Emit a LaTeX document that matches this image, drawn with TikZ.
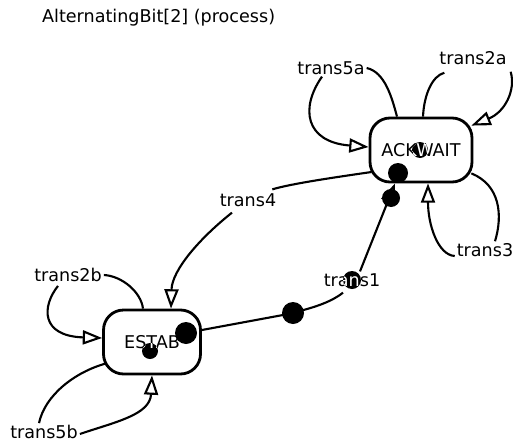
\documentclass[tikz,border=0pt]{standalone}
\usepackage{fontspec}
\setmainfont{DejaVu Sans}
\usetikzlibrary{arrows.meta,calc}

\begin{document}
\begin{tikzpicture}[x=0.02cm,y=-0.02cm,
    statebox/.style={draw,line width=1.6pt,rounded corners=0.4cm,minimum height=1.28cm,inner sep=0pt,font=\fontsize{10}{12}\selectfont},
    lbl/.style={inner sep=1pt,font=\fontsize{10}{12}\selectfont},
    tr/.style={line width=1.2pt},
    tra/.style={tr,-{Triangle[open,length=11pt,width=8pt]}},
    blob/.style={fill=black}]
    \useasboundingbox (0,0) rectangle (513,446);

    \node[lbl,anchor=west] (title) at (40,18) {AlternatingBit[2] (process)};

    % states
    \node[statebox,minimum width=2.04cm] (ackwait) at (421,150) {ACKWAIT};
    \node[statebox,minimum width=1.94cm] (estab) at (152,342) {ESTAB};

    % transition labels
    \node[lbl] (t5a) at (331,68) {trans5a};
    \node[lbl] (t2a) at (473,58) {trans2a};
    \node[lbl] (t3) at (485,250) {trans3};
    \node[lbl] (t4) at (248,200) {trans4};
    \node[lbl] (t1) at (352,280) {trans1};
    \node[lbl] (t2b) at (68,275) {trans2b};
    \node[lbl] (t5b) at (44,432) {trans5b};

    % loops on ACKWAIT
    \draw[tr] ($(ackwait.north)+(-24,0)$) .. controls (392,98) and (385,72) .. (t5a.east);
    \draw[tra] ($(t5a.south)+(-9,0)$) .. controls (300,108) and (305,142) .. ($(ackwait.west)+(0,-3)$);
    \draw[tr] ($(ackwait.north)+(2,0)$) .. controls (424,95) and (432,76) .. ($(t2a.south west)+(7,6)$);
    \draw[tra] ($(t2a.south east)+(2,5)$) .. controls (516,90) and (505,112) .. ($(ackwait.north east)+(-2,9)$);
    \draw[tr] ($(ackwait.south east)+(-2,-10)$) .. controls (500,185) and (503,215) .. ($(t3.north)+(10,0)$);
    \draw[tra] ($(t3.west)+(0,6)$) .. controls (438,255) and (428,225) .. ($(ackwait.south)+(7,0)$);

    % ACKWAIT -> ESTAB
    \draw[tr] ($(ackwait.west)+(3,22)$) .. controls (330,178) and (290,184) .. ($(t4.north east)+(-6,-2)$);
    \draw[tra] ($(t4.south)+(-16,4)$) .. controls (200,238) and (172,270) .. ($(estab.north)+(19,0)$);

    % ESTAB -> ACKWAIT
    \draw[tr] ($(estab.east)+(0,-12)$) -- (283,315) .. controls (310,309) and (330,303) .. ($(t1.south)+(-9,4)$);
    \draw[tra] ($(t1.north)+(8,0)$) -- ($(ackwait.south)+(-26,0)$);

    % loops on ESTAB
    \draw[tr] ($(estab.north)+(-9,0)$) .. controls (141,292) and (122,276) .. (t2b.east);
    \draw[tra] ($(t2b.south)+(-10,2)$) .. controls (42,306) and (40,336) .. ($(estab.west)+(0,-4)$);
    \draw[tr] ($(estab.south west)+(4,-12)$) .. controls (75,372) and (45,395) .. ($(t5b.north)+(-5,0)$);
    \draw[tra] ($(t5b.east)+(0,2)$) .. controls (115,422) and (150,415) .. (estab.south);

    % markers
    \foreach \p/\r in {{(398,173)}/10, {(391,198)}/9, {(293,313)}/11, {(186,333)}/11}
        \fill[blob] \p circle (\r);
    \foreach \p/\r/\n/\txt in {{(420,150)}/8/ackwait/ACKWAIT, {(150,351)}/8/estab/ESTAB, {(352,280)}/9/t1/trans1} {
        \fill[blob] \p circle (\r);
        \begin{scope}
            \clip \p circle (\r);
            \node[lbl,text=white] at (\n.center) {\txt};
        \end{scope}
    }
\end{tikzpicture}
\end{document}
